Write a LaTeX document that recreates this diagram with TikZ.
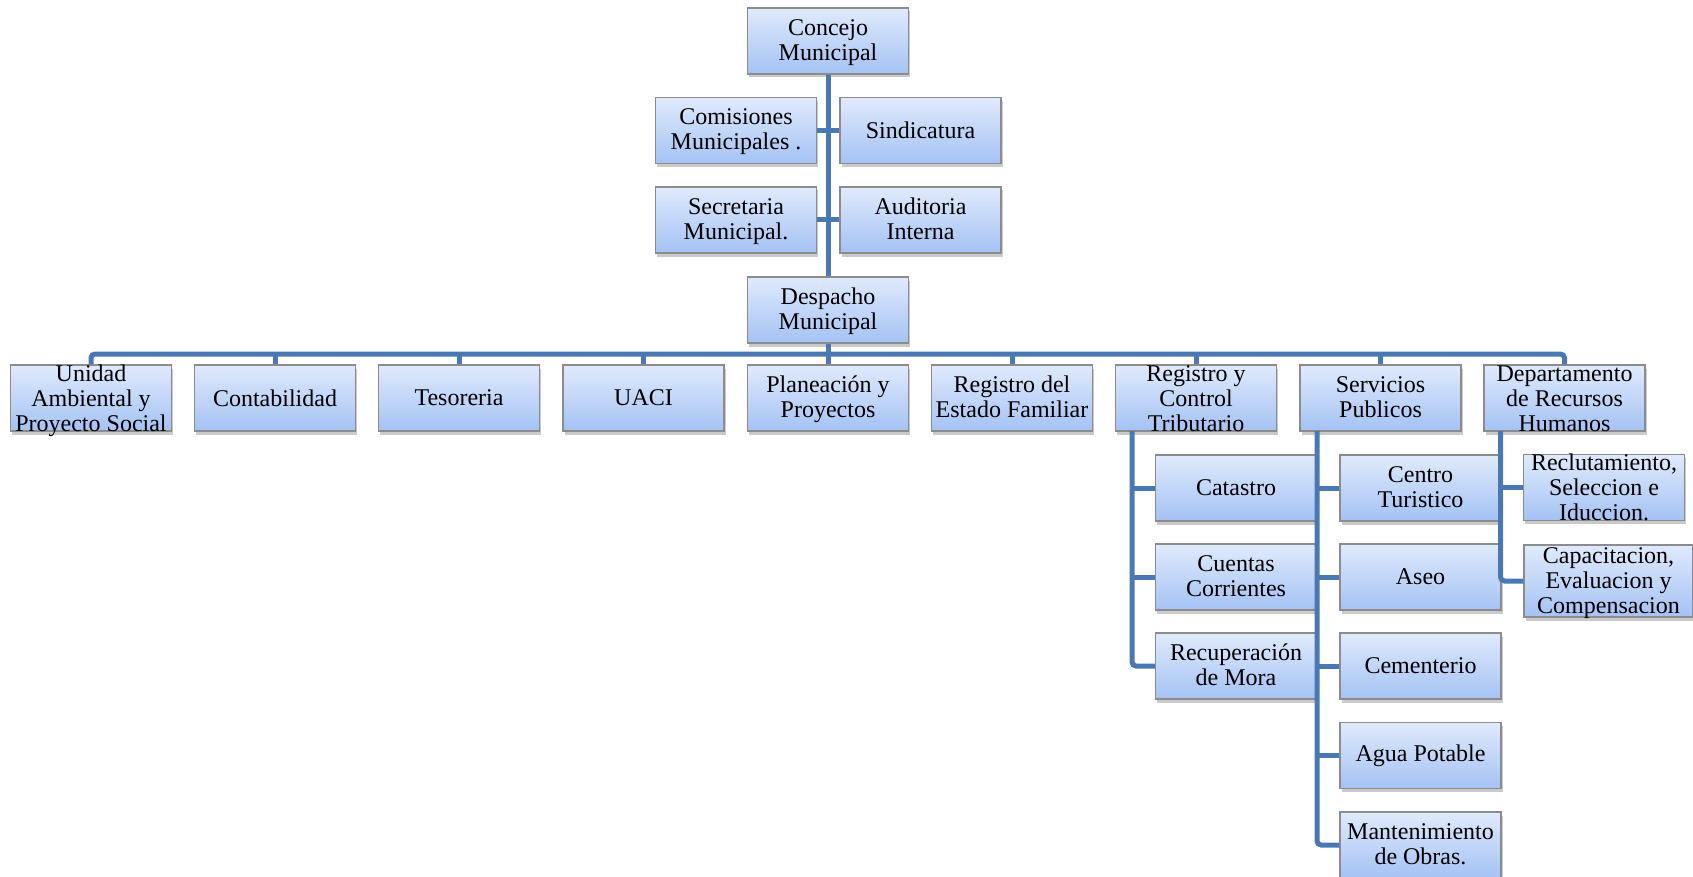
\documentclass[tikz,border=0pt]{standalone}
\usepackage{fontspec}
\setmainfont{Liberation Serif}
\usetikzlibrary{shadows}
\definecolor{boxtop}{RGB}{224,234,252}
\definecolor{boxbot}{RGB}{164,194,244}
\definecolor{boxline}{RGB}{140,140,140}
\definecolor{conncol}{RGB}{74,120,178}
% multi-line text: first baseline raised by #1 above the box centre, no effect on box size
\newcommand{\mlt}[2]{\raisebox{#1}[0pt][0pt]{\begin{tabular}[t]{@{}c@{}}#2\end{tabular}}}
\newcommand{\twol}[1]{\mlt{5.5pt}{#1}}
\newcommand{\threel}[1]{\mlt{17pt}{#1}}
\tikzset{
  orgbox/.style={draw=boxline, line width=1.3pt, top color=boxtop, bottom color=boxbot,
    minimum width=161pt, minimum height=66pt, inner sep=0pt,
    font=\fontsize{24}{25}\selectfont,
    drop shadow={shadow xshift=1.5pt, shadow yshift=-3.5pt, opacity=0.35, fill=black!60}},
  conn/.style={draw=conncol, line width=5pt},
}
\begin{document}
\begin{tikzpicture}[x=1pt,y=-1pt]
\useasboundingbox (0,0) rectangle (1693,877);
% top column
\node[orgbox] (concejo) at (828,41) {\twol{Concejo\\Municipal}};
\node[orgbox] (comis) at (736,130.5) {\twol{Comisiones\\Municipales .}};
\node[orgbox] (sindi) at (920.5,130.5) {Sindicatura};
\node[orgbox] (secre) at (736,220) {\twol{Secretaria\\Municipal.}};
\node[orgbox] (audit) at (920.5,220) {\twol{Auditoria\\Interna}};
\node[orgbox] (desp) at (828,310) {\twol{Despacho\\Municipal}};
% second row
\node[orgbox] (unidad) at (91,398) {\threel{Unidad\\Ambiental y\\Proyecto Social}};
\node[orgbox] (conta) at (275,398) {Contabilidad};
\node[orgbox] (tesor) at (459,398) {Tesoreria};
\node[orgbox] (uaci) at (643.5,398) {UACI};
\node[orgbox] (plan) at (828,398) {\twol{Planeación y\\Proyectos}};
\node[orgbox] (regfam) at (1012,398) {\twol{Registro del\\Estado Familiar}};
\node[orgbox] (ryct) at (1196,398) {\threel{Registro y\\Control\\Tributario}};
\node[orgbox] (serv) at (1380.5,398) {\twol{Servicios\\Publicos}};
\node[orgbox] (depto) at (1564.5,398) {\threel{Departamento\\de Recursos\\Humanos}};
% children of RyCT
\node[orgbox] (catas) at (1236,488) {Catastro};
\node[orgbox] (cuent) at (1236,577) {\twol{Cuentas\\Corrientes}};
\node[orgbox] (recup) at (1236,666) {\twol{Recuperación\\de Mora}};
% children of Servicios
\node[orgbox] (centro) at (1420.5,488) {\twol{Centro\\Turistico}};
\node[orgbox] (aseo) at (1420.5,577) {Aseo};
\node[orgbox] (cemen) at (1420.5,666) {Cementerio};
\node[orgbox] (agua) at (1420.5,755.5) {Agua Potable};
\node[orgbox] (mant) at (1420.5,845) {\twol{Mantenimiento\\de Obras.}};
% children of Depto
\node[orgbox] (reclu) at (1604,487.5) {\threel{Reclutamiento,\\Seleccion e\\Iduccion.}};
\node[orgbox, minimum width=169pt, minimum height=72pt] (capac) at (1608.5,581) {\mlt{18pt}{Capacitacion,\\Evaluacion y\\Compensacion}};

% connectors
\draw[conn] (concejo.south) -- (desp.north);
\draw[conn] (comis.east) -- (sindi.west);
\draw[conn] (secre.east) -- (audit.west);
\coordinate (bus) at (828,354);
\draw[conn] (desp.south) -- (bus);
\draw[conn, rounded corners=4pt] (unidad.north) |- (bus) -| (depto.north);
\foreach \n in {conta,tesor,uaci,plan,regfam,ryct,serv}
  \draw[conn] (\n.north) -- (\n.north |- bus);
% RyCT branch
\coordinate (rl) at (1132,431);
\draw[conn, rounded corners=4pt] (rl) |- (recup.west);
\draw[conn] (catas.west) -- (catas.west -| rl);
\draw[conn] (cuent.west) -- (cuent.west -| rl);
% Servicios branch
\coordinate (sl) at (1317,431);
\draw[conn, rounded corners=4pt] (sl) |- (mant.west);
\foreach \n in {centro,aseo,cemen,agua}
  \draw[conn] (\n.west) -- (\n.west -| sl);
% Depto branch
\coordinate (dl) at (1500.5,431);
\draw[conn, rounded corners=4pt] (dl) |- (capac.west);
\draw[conn] (reclu.west) -- (reclu.west -| dl);
\end{tikzpicture}
\end{document}
